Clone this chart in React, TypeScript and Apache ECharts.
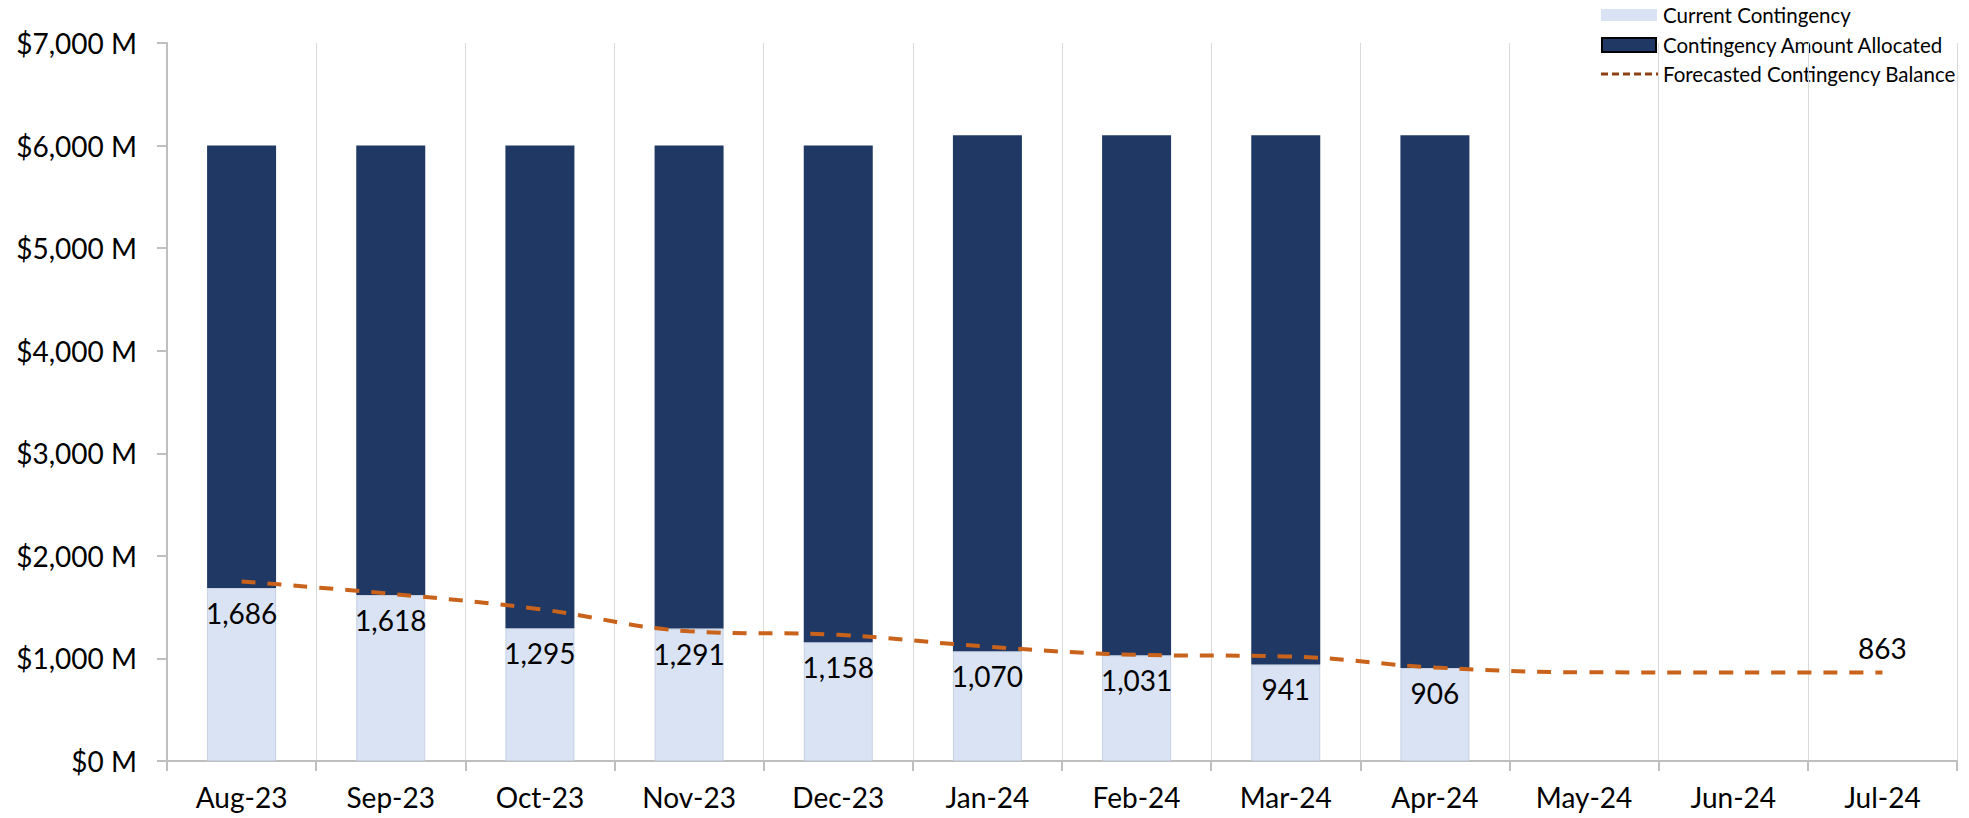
import React, { useEffect, useRef } from "react";
import * as echarts from "echarts";

const months = ["Aug-23", "Sep-23", "Oct-23", "Nov-23", "Dec-23", "Jan-24", "Feb-24", "Mar-24", "Apr-24", "May-24", "Jun-24", "Jul-24"];
const currentContingency = [1686, 1618, 1295, 1291, 1158, 1070, 1031, 941, 906, null, null, null];
const amountAllocated = [4314, 4382, 4705, 4709, 4842, 5030, 5069, 5159, 5194, null, null, null];
const forecastBalance = [1750, 1630, 1480, 1265, 1230, 1115, 1035, 1020, 912, 865, 863, 863];
const yTicks = { min: 0, max: 7000, interval: 1000 };
const legendNames = ["Current Contingency", "Contingency Amount Allocated", "Forecasted Contingency Balance"];

const FONT = "Lato";
const LIGHT = "#DAE3F3";
const DARK = "#203864";
const ORANGE = "#C9621A";

export default function App() {
  const ref = useRef<HTMLDivElement>(null);
  useEffect(() => {
    if (!ref.current) return;
    const chart = echarts.init(ref.current, null, { renderer: "svg" });
    const lastIdx = forecastBalance.length - 1;
    const option = {
      animation: false,
      textStyle: { fontFamily: FONT },
      grid: { left: 167, right: 12, top: 43, bottom: 57, containLabel: false },
      xAxis: {
        type: "category",
        data: months,
        boundaryGap: true,
        axisLine: { show: true, lineStyle: { color: "#BFBFBF", width: 2 } },
        axisTick: { show: true, length: 10, lineStyle: { color: "#BFBFBF", width: 2 } },
        splitLine: { show: true, lineStyle: { color: "#D9D9D9", width: 1 } },
        axisLabel: { fontSize: 28, color: "#000", margin: 22, fontFamily: FONT },
      },
      yAxis: {
        type: "value",
        min: yTicks.min,
        max: yTicks.max,
        interval: yTicks.interval,
        axisLine: { show: true, lineStyle: { color: "#BFBFBF", width: 2 } },
        axisTick: { show: true, length: 10, lineStyle: { color: "#BFBFBF", width: 2 } },
        splitLine: { show: false },
        axisLabel: {
          fontSize: 28,
          color: "#000",
          margin: 30,
          fontFamily: FONT,
          formatter: (v: number) => "$" + v.toLocaleString("en-US") + " M",
        },
      },
      series: [
        {
          name: legendNames[0],
          type: "bar",
          stack: "total",
          barWidth: 69,
          data: currentContingency,
          itemStyle: { color: LIGHT, borderColor: "#C5D0E2", borderWidth: 1 },
          label: {
            show: true,
            position: "insideTop",
            distance: 11,
            fontSize: 28,
            color: "#000",
            fontFamily: FONT,
            formatter: (p: any) => (p.value == null ? "" : Number(p.value).toLocaleString("en-US")),
          },
        },
        {
          name: legendNames[1],
          type: "bar",
          stack: "total",
          barWidth: 69,
          data: amountAllocated,
          itemStyle: { color: DARK },
        },
        {
          name: legendNames[2],
          type: "line",
          smooth: 0.4,
          symbol: "circle",
          symbolSize: 0,
          showSymbol: true,
          z: 5,
          lineStyle: { color: ORANGE, width: 4, type: [14, 12] },
          itemStyle: { color: ORANGE },
          data: forecastBalance.map((v, i) =>
            i === lastIdx
              ? { value: v, label: { show: true, position: "top", distance: 10, fontSize: 28, color: "#000", fontFamily: FONT } }
              : v
          ),
          label: { show: false },
        },
      ],
      graphic: [
        { type: "rect", shape: { x: 1601, y: 9, width: 56, height: 12 }, style: { fill: LIGHT } },
        { type: "text", x: 1663, y: 15, style: { text: legendNames[0], fontSize: 20.5, fontFamily: FONT, fill: "#000", verticalAlign: "middle" } },
        { type: "rect", shape: { x: 1602, y: 38, width: 54, height: 14 }, style: { fill: DARK, stroke: "#000", lineWidth: 2 } },
        { type: "text", x: 1663, y: 45, style: { text: legendNames[1], fontSize: 20.5, fontFamily: FONT, fill: "#000", verticalAlign: "middle" } },
        { type: "line", shape: { x1: 1601, y1: 74, x2: 1658, y2: 74 }, style: { stroke: "#8E4114", lineWidth: 3, lineDash: [7, 4] } },
        { type: "text", x: 1663, y: 74, style: { text: legendNames[2], fontSize: 20.5, fontFamily: FONT, fill: "#000", verticalAlign: "middle" } },
      ],
    };
    chart.setOption(option as any);
    return () => chart.dispose();
  }, []);
  return <div ref={ref} style={{ position: "fixed", left: 0, top: 0, width: 1969, height: 818, background: "#fff" }} />;
}
